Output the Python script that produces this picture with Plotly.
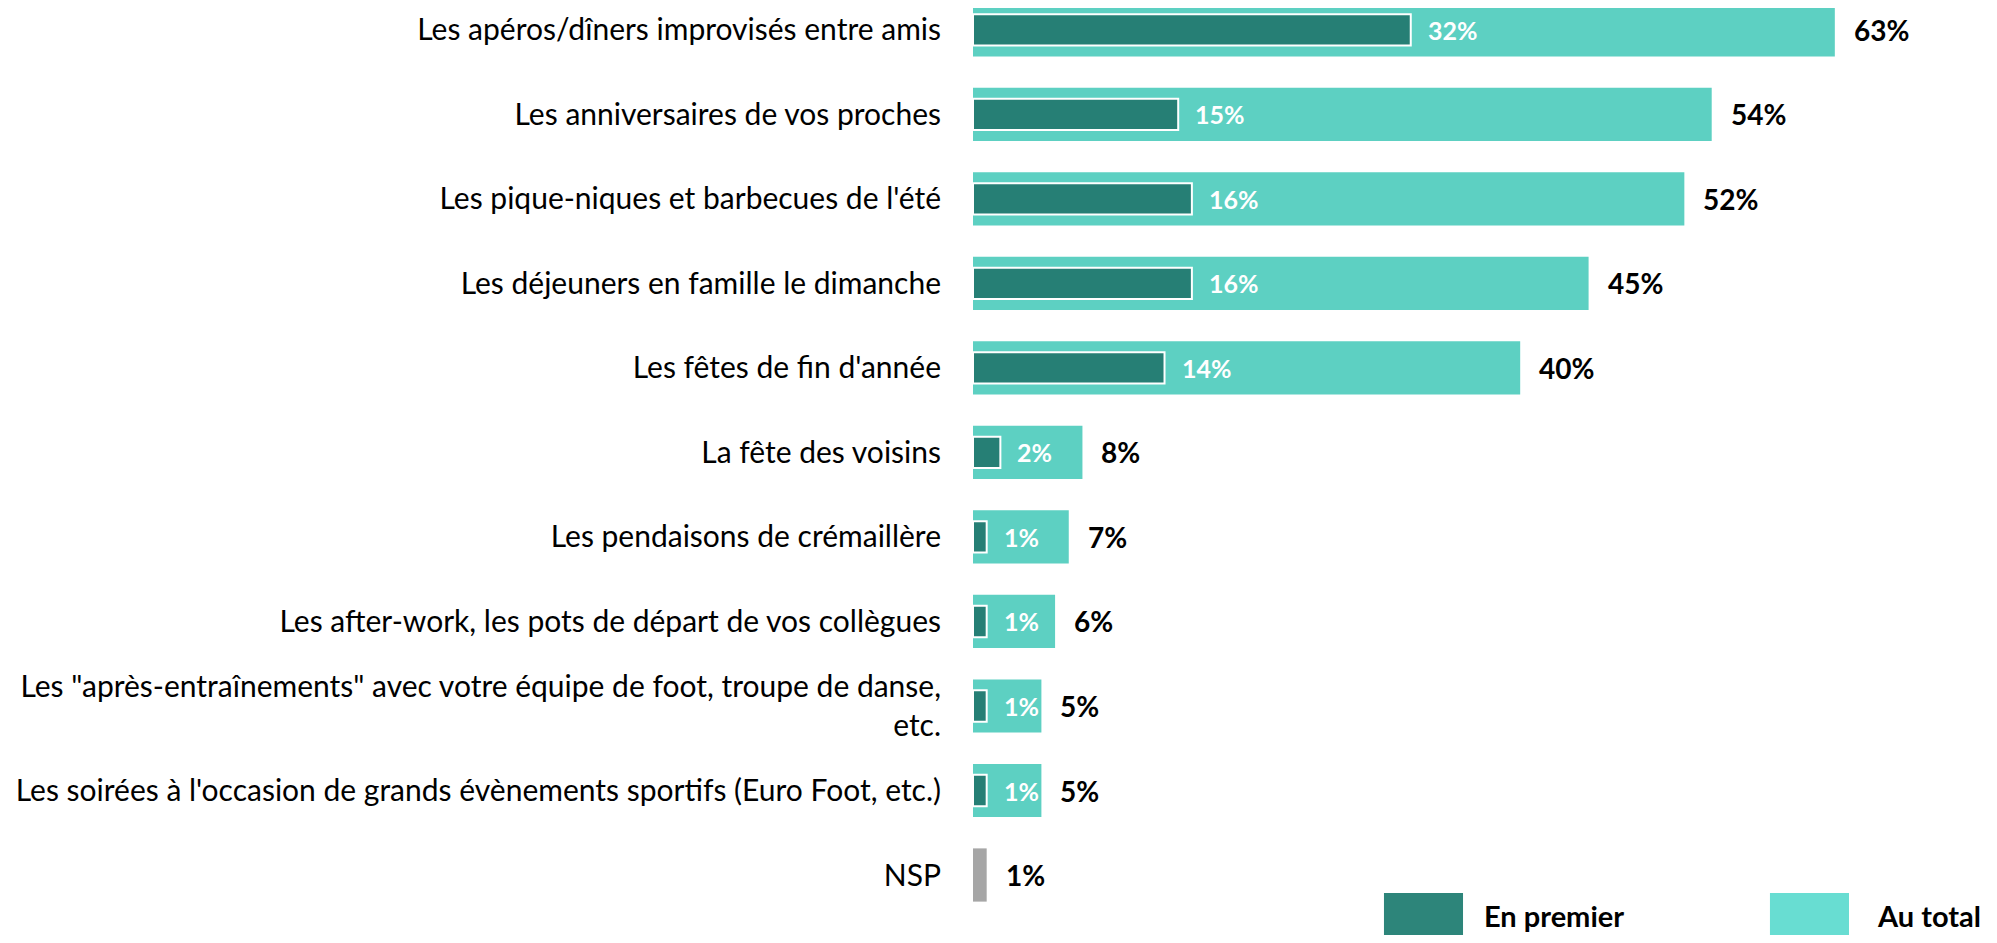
import plotly.graph_objects as go

categories = [
    "Les apéros/dîners improvisés entre amis",
    "Les anniversaires de vos proches",
    "Les pique-niques et barbecues de l'été",
    "Les déjeuners en famille le dimanche",
    "Les fêtes de fin d'année",
    "La fête des voisins",
    "Les pendaisons de crémaillère",
    "Les after-work, les pots de départ de vos collègues",
    "Les \"après-entraînements\" avec votre équipe de foot, troupe de danse, etc.",
    "Les soirées à l'occasion de grands évènements sportifs (Euro Foot, etc.)",
    "NSP",
]
tick_labels = [
    "Les apéros/dîners improvisés entre amis",
    "Les anniversaires de vos proches",
    "Les pique-niques et barbecues de l'été",
    "Les déjeuners en famille le dimanche",
    "Les fêtes de fin d'année",
    "La fête des voisins",
    "Les pendaisons de crémaillère",
    "Les after-work, les pots de départ de vos collègues",
    "Les \"après-entraînements\" avec votre équipe de foot, troupe de danse,<br>etc.",
    "Les soirées à l'occasion de grands évènements sportifs (Euro Foot, etc.)",
    "NSP",
]
au_total = [63, 54, 52, 45, 40, 8, 7, 6, 5, 5, 1]
en_premier = [32, 15, 16, 16, 14, 2, 1, 1, 1, 1, None]

DARK = "#267F75"
LIGHT = "#5DD0C2"
GREY = "#A6A6A6"
LEG_DARK = "#2D857A"
LEG_LIGHT = "#68DDD2"
FONT = "Lato"

total_colors = [LIGHT] * (len(categories) - 1) + [GREY]

fig = go.Figure()
fig.add_trace(go.Bar(
    y=categories, x=au_total, orientation="h", width=0.63,
    marker=dict(color=total_colors, line=dict(width=0)),
    name="Au total", showlegend=False, hoverinfo="skip",
))
fig.add_trace(go.Bar(
    y=categories[:-1], x=en_premier[:-1], orientation="h", width=0.37,
    marker=dict(color=DARK, line=dict(width=2, color="white")),
    name="En premier", showlegend=False, hoverinfo="skip",
))

annotations = []
for cat, v in zip(categories, au_total):
    annotations.append(dict(
        x=v, y=cat, xref="x", yref="y", text=f"{v}%", showarrow=False,
        xanchor="left", xshift=17, yanchor="middle",
        font=dict(family=FONT, size=28, color="black", weight="bold"),
    ))
for cat, v in zip(categories, en_premier):
    if v is None:
        continue
    annotations.append(dict(
        x=v, y=cat, xref="x", yref="y", text=f"{v}%", showarrow=False,
        xanchor="left", xshift=15, yanchor="middle",
        font=dict(family=FONT, size=25, color="white", weight="bold"),
    ))

# legend (manual, large swatches)
legend_items = [("En premier", LEG_DARK, 0.4045, 0.4823, 0.5010),
                ("Au total", LEG_LIGHT, 0.7844, 0.8622, 0.8878)]
shapes = []
for name, col, x0, x1, xt in legend_items:
    shapes.append(dict(type="rect", xref="paper", yref="paper",
                       x0=x0, x1=x1, y0=-0.05, y1=0.0453,
                       fillcolor=col, line=dict(width=0), layer="above"))
    annotations.append(dict(
        x=xt, y=0.0, xref="paper", yref="paper", text=name, showarrow=False,
        xanchor="left", yanchor="bottom",
        font=dict(family=FONT, size=29, color="black", weight="bold"),
    ))

fig.update_layout(
    width=1981, height=927,
    margin=dict(l=965, r=0, t=0, b=0),
    barmode="overlay",
    plot_bgcolor="white", paper_bgcolor="white",
    font=dict(family=FONT, color="black"),
    xaxis=dict(range=[0, 74.27], visible=False, fixedrange=True),
    yaxis=dict(
        type="category", range=[10.710, -0.260],
        tickmode="array", tickvals=categories, ticktext=tick_labels,
        ticks="outside", ticklen=25, tickcolor="rgba(0,0,0,0)",
        tickfont=dict(family=FONT, size=30, color="black"),
        showgrid=False, zeroline=False, showline=False,
    ),
    annotations=annotations, shapes=shapes,
)

fig.write_html("out.html")
